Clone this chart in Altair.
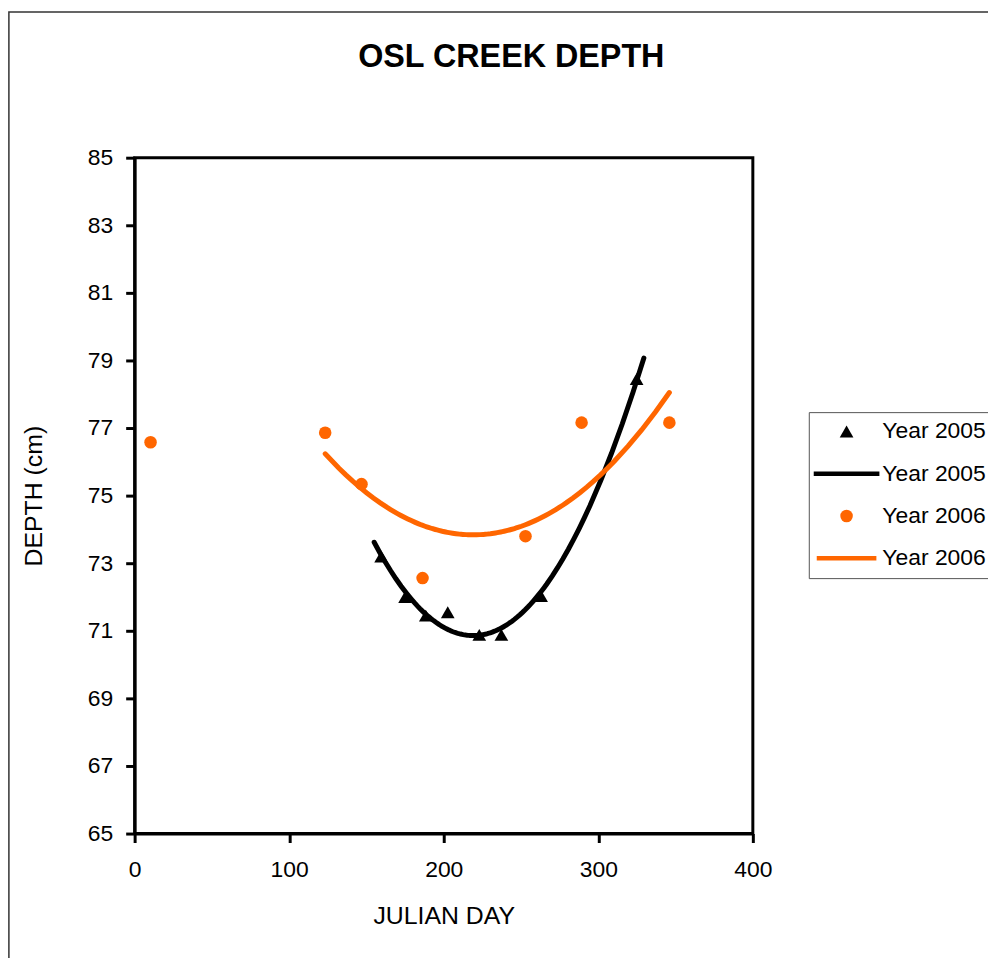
import altair as alt
import pandas as pd

# ---- data ----
day_2005 = [159.5, 175.0, 188.4, 202.6, 223.0, 237.3, 263.0, 324.8]
depth_2005 = [73.2, 72.0, 71.45, 71.55, 70.88, 70.88, 72.03, 78.45]

day_2006 = [10.3, 123.3, 146.8, 186.3, 252.9, 289.2, 346.0]
depth_2006 = [76.58, 76.86, 75.34, 72.56, 73.8, 77.16, 77.16]
in_fit_2006 = [False, True, True, True, True, True, True]

fit_extent_2005 = [155.0, 329.5]
fit_extent_2006 = [123.3, 346.0]

series_keys = ["pts2005", "fit2005", "pts2006", "fit2006"]
series_labels = ["Year 2005", "Year 2005", "Year 2006", "Year 2006"]
series_colors = ["#000000", "#000000", "#FF6600", "#FF6600"]
LINE_PATH = "M-5,-0.36L5,-0.36L5,0.36L-5,0.36Z"
series_shapes = ["triangle-up", LINE_PATH, "circle", LINE_PATH]
series_sizes = [190, 144, 144, 144]

x_ticks = [0, 100, 200, 300, 400]
y_ticks = list(range(65, 86, 2))

FONT = "Liberation Sans"

rows = []
for d, v in zip(day_2005, depth_2005):
    rows.append({"series": "pts2005", "day": d, "depth": v, "in_fit": True})
for d, v, f in zip(day_2006, depth_2006, in_fit_2006):
    rows.append({"series": "pts2006", "day": d, "depth": v, "in_fit": f})
df = pd.DataFrame(rows)

label_expr = ""
for k, lab in zip(series_keys, series_labels):
    label_expr += f"datum.value == '{k}' ? '{lab}' : "
label_expr += "''"

leg = alt.Legend(
    title=None,
    orient="none",
    legendX=678.3,
    legendY=256,
    strokeColor="#555555",
    padding=8,
    labelFont=FONT,
    labelFontSize=23,
    labelColor="black",
    labelExpr=label_expr,
    symbolStrokeWidth=0,
    symbolOffset=18.5,
    labelOffset=24.5,
    rowPadding=18.5,
)

x_enc = alt.X(
    "day:Q",
    scale=alt.Scale(domain=[0, 400], nice=False),
    axis=alt.Axis(values=x_ticks, title="JULIAN DAY", labelPadding=16, titlePadding=23, labelFlush=False),
)
y_enc = alt.Y(
    "depth:Q",
    scale=alt.Scale(domain=[65, 85], nice=False, zero=False),
    axis=alt.Axis(values=y_ticks, title="DEPTH (cm)", labelPadding=13, titlePadding=41, labelFlush=False),
)

base = alt.Chart(df)

points = base.mark_point(filled=True, opacity=1, strokeWidth=0).encode(
    x=x_enc,
    y=y_enc,
    color=alt.Color("series:N", scale=alt.Scale(domain=series_keys, range=series_colors), legend=leg),
    shape=alt.Shape("series:N", scale=alt.Scale(domain=series_keys, range=series_shapes), legend=leg),
    size=alt.Size("series:N", scale=alt.Scale(domain=series_keys, range=series_sizes), legend=leg),
)

fit05 = (
    base.transform_filter("datum.series == 'pts2005'")
    .transform_regression("day", "depth", method="poly", order=2, extent=fit_extent_2005)
    .mark_line(color="#000000", strokeWidth=5, strokeCap="round")
    .encode(x="day:Q", y="depth:Q")
)
fit06 = (
    base.transform_filter("datum.series == 'pts2006' && datum.in_fit")
    .transform_regression("day", "depth", method="poly", order=2, extent=fit_extent_2006)
    .mark_line(color="#FF6600", strokeWidth=5, strokeCap="round")
    .encode(x="day:Q", y="depth:Q")
)

frame = alt.Chart(pd.DataFrame({"k": [0]})).mark_rect(
    fillOpacity=0, stroke="#333333", strokeWidth=1.5
).encode(
    x=alt.value(-126.5), x2=alt.value(900), y=alt.value(-146.7), y2=alt.value(900)
)

chart = (
    alt.layer(frame, fit05, fit06, points)
    .properties(
        width=622,
        height=680,
        autosize=alt.AutoSizeParams(type="none"),
        padding={"left": 127.4, "top": 147.7, "right": 986 - 127.4 - 622, "bottom": 950 - 147.7 - 680},
        title=alt.Title(
            "OSL CREEK DEPTH",
            font=FONT,
            fontSize=32.5,
            fontWeight="bold",
            color="black",
            anchor="middle",
            dx=68,
            offset=-89,
            baseline="alphabetic",
        ),
    )
    .configure(background="white")
    .configure_view(stroke="black", strokeWidth=3)
    .configure_axis(
        grid=False,
        domainColor="black",
        domainWidth=3,
        tickColor="black",
        tickWidth=3,
        tickSize=9,
        labelFont=FONT,
        labelFontSize=23,
        labelColor="black",
        titleFont=FONT,
        titleFontSize=25,
        titleFontWeight="normal",
        titleColor="black",
    )
)

chart.save("out.html", embed_options={"renderer": "svg", "actions": False})
